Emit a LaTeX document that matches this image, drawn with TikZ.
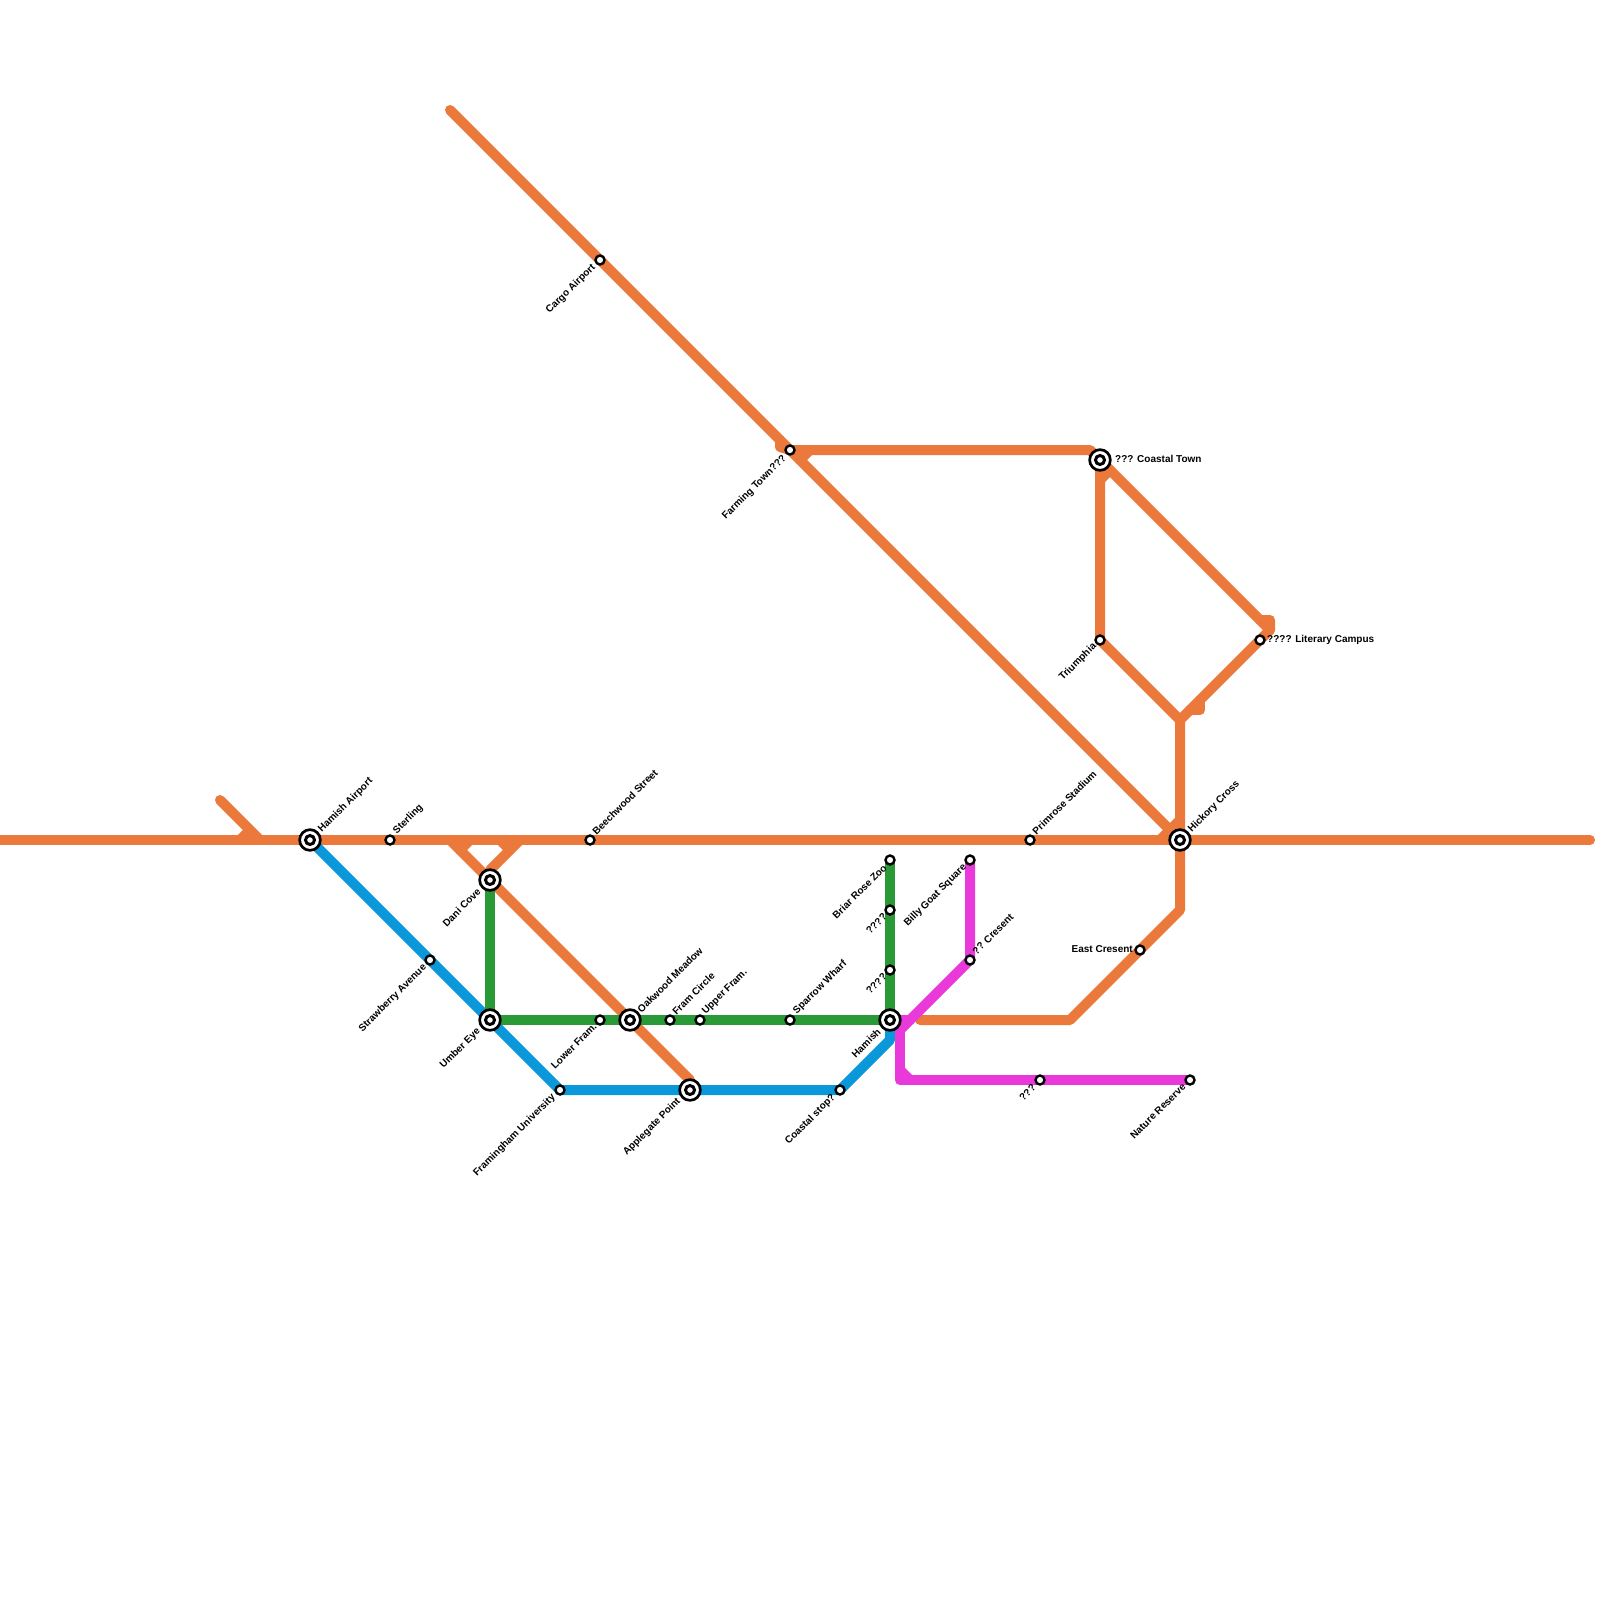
\documentclass[tikz,border=0pt]{standalone}
\usepackage{fontspec}
\setmainfont{Liberation Sans}
\usetikzlibrary{backgrounds}
\definecolor{my_orange}{HTML}{EB793B}
\definecolor{my_blue}{HTML}{0A98DA}
\definecolor{my_green}{HTML}{2A9A36}
\definecolor{my_magenta}{HTML}{E939DA}

\begin{document}
\begin{tikzpicture}[
    x=1pt, y=-1pt,
    metro/.style={line width=10pt, line join=round, line cap=round},
    stop/.style={circle, draw=black, fill=white, line width=2.4pt, minimum size=9pt, inner sep=0pt},
    hub/.style={circle, draw=black, fill=white, line width=2.7pt, minimum size=20.7pt, inner sep=0pt,
        path picture={\draw[black, line width=3pt] (path picture bounding box.center) circle (4.5pt);}},
    tag/.style={font=\fontsize{10}{11}\selectfont\bfseries, text=black, inner sep=0pt},
    tag_ne/.style={tag, rotate=45, anchor=west},
    tag_sw/.style={tag, rotate=45, anchor=east},
    tag_e/.style={tag, anchor=west},
    tag_w/.style={tag, anchor=east}
]
\useasboundingbox (0,0) rectangle (1600,1600);

%% ================================================================
%% Stationen
%% ================================================================
\node[hub] (hamish_airport) at (310,840) {};
\node[hub] (dani_cove) at (490,880) {};
\node[hub] (umber_eye) at (490,1020) {};
\node[hub] (oakwood) at (630,1020) {};
\node[hub] (applegate) at (690,1090) {};
\node[hub] (hamish) at (890,1020) {};
\node[hub] (hickory) at (1180,840) {};
\node[hub] (coastal_town) at (1100,460) {};

\node[stop] (sterling) at (390,840) {};
\node[stop] (beechwood) at (590,840) {};
\node[stop] (primrose) at (1030,840) {};
\node[stop] (strawberry) at (430,960) {};
\node[stop] (framingham) at (560,1090) {};
\node[stop] (lower_fram) at (600,1020) {};
\node[stop] (fram_circle) at (670,1020) {};
\node[stop] (upper_fram) at (700,1020) {};
\node[stop] (sparrow) at (790,1020) {};
\node[stop] (coastal_stop) at (840,1090) {};
\node[stop] (briar_rose) at (890,860) {};
\node[stop] (unknown_a) at (890,910) {};
\node[stop] (unknown_b) at (890,970) {};
\node[stop] (billy_goat) at (970,860) {};
\node[stop] (cresent) at (970,960) {};
\node[stop] (unknown_c) at (1040,1080) {};
\node[stop] (nature_reserve) at (1190,1080) {};
\node[stop] (east_cresent) at (1140,950) {};
\node[stop] (triumphia) at (1100,640) {};
\node[stop] (literary) at (1260,640) {};
\node[stop] (farming_town) at (790,450) {};
\node[stop] (cargo_airport) at (600,260) {};

%% --- Stationsnamen ---
\node[tag_ne] (tag_hamish_airport) at (320,831) {Hamish Airport};
\node[tag_ne] (tag_sterling) at (395,833) {Sterling};
\node[tag_ne] (tag_beechwood) at (594,833) {Beechwood Street};
\node[tag_ne] (tag_primrose) at (1034,833) {Primrose Stadium};
\node[tag_ne] (tag_hickory) at (1190,831) {Hickory Cross};
\node[tag_ne] (tag_oakwood) at (639,1011) {Oakwood Meadow};
\node[tag_ne] (tag_fram_circle) at (674,1013) {Fram Circle};
\node[tag_ne] (tag_upper_fram) at (704,1013) {Upper Fram.};
\node[tag_ne] (tag_sparrow) at (795,1013) {Sparrow Wharf};
\node[tag_ne] (tag_cresent) at (974,953) {?? Cresent};
\node[tag_sw] (tag_dani_cove) at (479,890) {Dani Cove};
\node[tag_sw] (tag_umber_eye) at (479,1030) {Umber Eye};
\node[tag_sw] (tag_strawberry) at (425,966) {Strawberry Avenue};
\node[tag_sw] (tag_framingham) at (554,1096) {Framingham University};
\node[tag_sw] (tag_lower_fram) at (595,1025) {Lower Fram.};
\node[tag_sw] (tag_applegate) at (679,1100) {Applegate Point};
\node[tag_sw] (tag_coastal_stop) at (834,1096) {Coastal stop?};
\node[tag_sw] (tag_hamish) at (879,1030) {Hamish};
\node[tag_sw] (tag_briar_rose) at (885,866) {Briar Rose Zoo};
\node[tag_sw] (tag_unknown_a) at (885,915) {????};
\node[tag_sw] (tag_unknown_b) at (885,975) {????};
\node[tag_sw] (tag_billy_goat) at (965,866) {Billy Goat Square};
\node[tag_sw] (tag_unknown_c) at (1034,1086) {???};
\node[tag_sw] (tag_nature_reserve) at (1184,1085) {Nature Reserve};
\node[tag_sw] (tag_triumphia) at (1095,645) {Triumphia};
\node[tag_sw] (tag_farming_town) at (785,457) {Farming Town???};
\node[tag_sw] (tag_cargo_airport) at (594,266) {Cargo Airport};
\node[tag_e] (tag_coastal_town) at (1115,459) {??? Coastal Town};
\node[tag_e] (tag_literary) at (1267,640) {???? Literary Campus};
\node[tag_w] (tag_east_cresent) at (1133,949) {East Cresent};

%% ================================================================
%% Freie Enden und Knickpunkte
%% ================================================================
\coordinate (west_end) at (0,840);
\coordinate (east_end) at (1590,840);
\coordinate (cargo_end) at (450,110);
\coordinate (spur_top) at (220,800);
\coordinate (fork_left) at (450,840);
\coordinate (fork_right) at (520,840);
\coordinate (apple_top) at (690,1080);
\coordinate (coast_bend) at (1090,450);
\coordinate (lit_top) at (1260,620);
\coordinate (lit_mid) at (1270,620);
\coordinate (lit_low) at (1270,630);
\coordinate (lit_join) at (1180,720);
\coordinate (hick_low) at (1180,910);
\coordinate (bay_bend) at (1070,1020);
\coordinate (bay_end) at (920,1020);
\coordinate (blue_bend) at (890,1040);
\coordinate (pink_top) at (900,1030);
\coordinate (pink_corner) at (900,1080);
\coordinate (pink_side) at (910,1020);

%% ================================================================
%% Linien
%% ================================================================
\begin{scope}[on background layer]
%% --- Orange ---
\draw[metro, my_orange] (west_end) -- (east_end);
\draw[metro, my_orange] (spur_top) -- (260,840) (250,830) -- (240,840);
\draw[metro, my_orange] (fork_left) -- (dani_cove.center) -- (oakwood.center) -- (apple_top) -- (applegate.center);
\draw[metro, my_orange] (fork_right) -- (490,870) -- (dani_cove.center);
\draw[metro, my_orange] (460,850) -- (470,840) (510,850) -- (500,840);
\draw[metro, my_orange] (cargo_end) -- (cargo_airport.center) -- (farming_town.center) -- (hickory.center);
\draw[metro, my_orange] (1160,840) -- (1180,820);
\draw[metro, my_orange] (780,440) -- (780,447) -- (farming_town.center);
\draw[metro, my_orange] (800,460) -- (810,450);
\draw[metro, my_orange] (farming_town.center) -- (coast_bend) -- (coastal_town.center);
\draw[metro, my_orange] (coastal_town.center) -- (triumphia.center) -- (lit_join);
\draw[metro, my_orange] (1100,480) -- (1110,470);
\draw[metro, my_orange] (coastal_town.center) -- (lit_low);
\draw[metro, my_orange] (lit_top) -- (lit_mid) -- (lit_low) -- (literary.center) -- (lit_join) -- (hickory.center) -- (hick_low) -- (east_cresent.center) -- (bay_bend) -- (bay_end);
\draw[metro, my_orange] (1190,710) -- (1200,710) -- (1200,700);

%% --- Blau ---
\draw[metro, my_blue] (hamish_airport.center) -- (strawberry.center) -- (umber_eye.center) -- (framingham.center) -- (applegate.center) -- (coastal_stop.center) -- (blue_bend) -- (hamish.center);

%% --- Gruen ---
\draw[metro, my_green] (dani_cove.center) -- (umber_eye.center) -- (hamish.center);
\draw[metro, my_green] (briar_rose.center) -- (hamish.center);

%% --- Magenta ---
\draw[metro, my_magenta] (billy_goat.center) -- (cresent.center) -- (pink_top);
\draw[metro, my_magenta] (hamish.center) -- (pink_side);
\draw[metro, my_magenta] (900,1020) -- (pink_corner) -- (nature_reserve.center);
\draw[metro, my_magenta] (900,1070) -- (910,1080);
\end{scope}

\end{tikzpicture}
\end{document}
